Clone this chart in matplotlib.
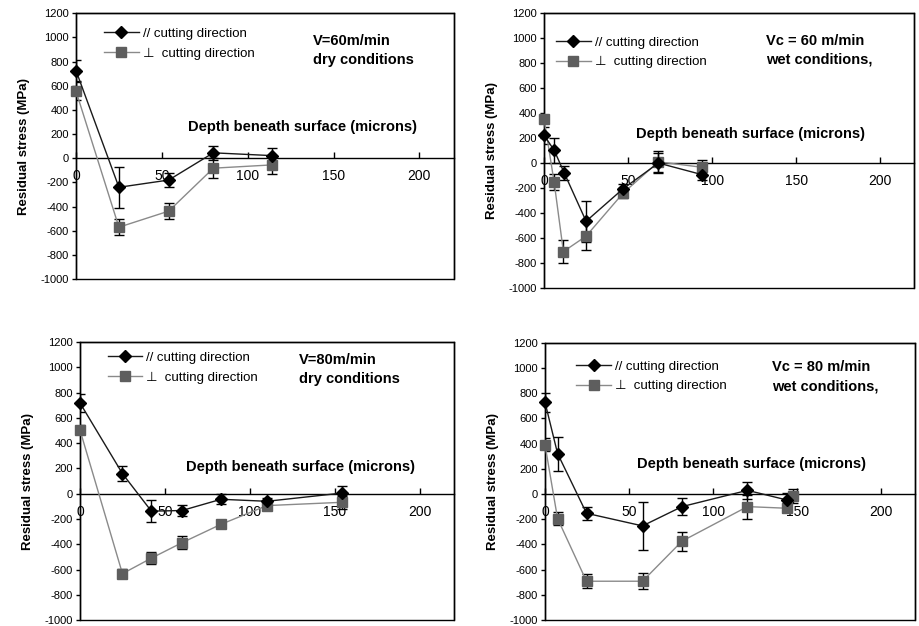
import numpy as np
import matplotlib
matplotlib.use("Agg")
import matplotlib.pyplot as plt
from matplotlib.patches import Rectangle

plt.rcParams['font.family'] = ['Liberation Sans', 'DejaVu Sans']
plt.rcParams['axes.unicode_minus'] = False

# --- data (depth in microns, stress in MPa) ---
# V=60 dry
p1_par_x = [0, 25, 54, 80, 114]
p1_par_y = [725, -240, -180, 45, 22]
p1_par_e = [85, 170, 58, 60, 60]
p1_perp_x = [0, 25, 54, 80, 114]
p1_perp_y = [555, -570, -437, -82, -55]
p1_perp_e = [75, 65, 68, 85, 75]

# Vc=60 wet
p2_par_x = [0, 6, 12, 25, 47, 68, 94]
p2_par_y = [222, 103, -79, -466, -206, 0, -93]
p2_par_e = [70, 100, 57, 165, 40, 80, 40]
p2_perp_x = [0, 6, 11.5, 25, 47, 68, 94]
p2_perp_y = [354, -153, -709, -585, -241, 10, -34]
p2_perp_e = [30, 65, 90, 110, 40, 85, 60]

# V=80 dry
p3_par_x = [0, 25, 42, 60, 83, 110, 154]
p3_par_y = [719, 159, -138, -133, -44, -60, 5]
p3_par_e = [70, 60, 88, 40, 40, 30, 55]
p3_perp_x = [0, 25, 42, 60, 83, 110, 154]
p3_perp_y = [505, -633, -510, -388, -242, -94, -68]
p3_perp_e = [35, 35, 50, 50, 20, 25, 50]

# Vc=80 wet
p4_par_x = [0, 7.5, 24.7, 58, 81.5, 120.4, 143.7]
p4_par_y = [729, 321, -153, -253, -100, 29, -47]
p4_par_e = [75, 135, 50, 190, 70, 65, 55]
p4_perp_x = [0, 7.5, 24.7, 58, 81.5, 120.4, 143.7, 147.7]
p4_perp_y = [392, -195, -692, -692, -374, -100, -113, -16]
p4_perp_e = [50, 50, 55, 65, 75, 95, 30, 55]

titles = ["V=60m/min\ndry conditions", "Vc = 60 m/min\nwet conditions,",
          "V=80m/min\ndry conditions", "Vc = 80 m/min\nwet conditions,"]
xlabel = "Depth beneath surface (microns)"
ylabel = "Residual stress (MPa)"
leg_par = "// cutting direction"
leg_perp = "\u22a5  cutting direction"
yticks = np.arange(-1000, 1201, 200)
xticks = [0, 50, 100, 150, 200]

panels = [
    (p1_par_x, p1_par_y, p1_par_e, p1_perp_x, p1_perp_y, p1_perp_e),
    (p2_par_x, p2_par_y, p2_par_e, p2_perp_x, p2_perp_y, p2_perp_e),
    (p3_par_x, p3_par_y, p3_par_e, p3_perp_x, p3_perp_y, p3_perp_e),
    (p4_par_x, p4_par_y, p4_par_e, p4_perp_x, p4_perp_y, p4_perp_e),
]

# axes rectangles [left, bottom, width, height] in figure fraction
rects = [
    [0.0827, 0.554, 0.411, 0.425],
    [0.592, 0.540, 0.4026, 0.439],
    [0.087, 0.0095, 0.407, 0.444],
    [0.593, 0.0095, 0.4026, 0.443],
]
# (text x, y) positions in data units
xlab_pos = [(132, 261), (123, 235), (130, 211), (123, 240)]
title_pos = [(138, 1030), (132, 1035), (129, 1115), (135, 1060)]
legend_pos = [(0.075, 0.945), (0.033, 0.915), (0.075, 0.965), (0.085, 0.935)]

fig = plt.figure(figsize=(9.19, 6.26), dpi=100)

for i, (px, py, pe, qx, qy, qe) in enumerate(panels):
    ax = fig.add_axes(rects[i])
    ax.set_xlim(0, 220)
    ax.set_ylim(-1000, 1200)

    # error bars first, then lines with markers on top
    ax.errorbar(qx, qy, yerr=qe, fmt='none', ecolor='black', elinewidth=1,
                capsize=3.5, capthick=1, zorder=2)
    ax.errorbar(px, py, yerr=pe, fmt='none', ecolor='black', elinewidth=1,
                capsize=3.5, capthick=1, zorder=2)
    ax.plot(qx, qy, color='#8a8a8a', lw=1, marker='s', ms=6.5,
            mfc='#5e5e5e', mec='#5e5e5e', label=leg_perp, zorder=6, clip_on=False)
    ax.plot(px, py, color='#1a1a1a', lw=1, marker='D', ms=6,
            mfc='black', mec='black', label=leg_par, zorder=7, clip_on=False)

    # x axis crossing at y=0, Excel style
    for s in ['left', 'right', 'top']:
        ax.spines[s].set_color('black')
        ax.spines[s].set_linewidth(1)
    ax.spines['bottom'].set_position(('data', 0))
    ax.spines['bottom'].set_linewidth(1)
    ax.add_patch(Rectangle((0, 0), 1, 1, transform=ax.transAxes, fill=False,
                           ec='black', lw=1, clip_on=False, zorder=5))

    ax.set_yticks(yticks)
    ax.set_xticks(xticks)
    ax.tick_params(axis='y', direction='out', length=3, width=1, labelsize=8, pad=2)
    ax.tick_params(axis='x', direction='in', length=4, width=1, labelsize=10, pad=8)
    ax.set_ylabel(ylabel, fontsize=9.5, fontweight='bold', labelpad=8)

    ax.text(xlab_pos[i][0], xlab_pos[i][1], xlabel, fontsize=10.5,
            fontweight='bold', ha='center', va='center')
    ax.text(title_pos[i][0], title_pos[i][1], titles[i], fontsize=10.5,
            fontweight='bold', ha='left', va='top', linespacing=1.45)

    h, l = ax.get_legend_handles_labels()
    ax.legend(h[::-1], l[::-1], loc='upper left', bbox_to_anchor=legend_pos[i],
              frameon=False, fontsize=9.5, handlelength=2.6, handletextpad=0.3,
              labelspacing=0.55, borderpad=0, borderaxespad=0)

fig.savefig("out.png", dpi=100)
